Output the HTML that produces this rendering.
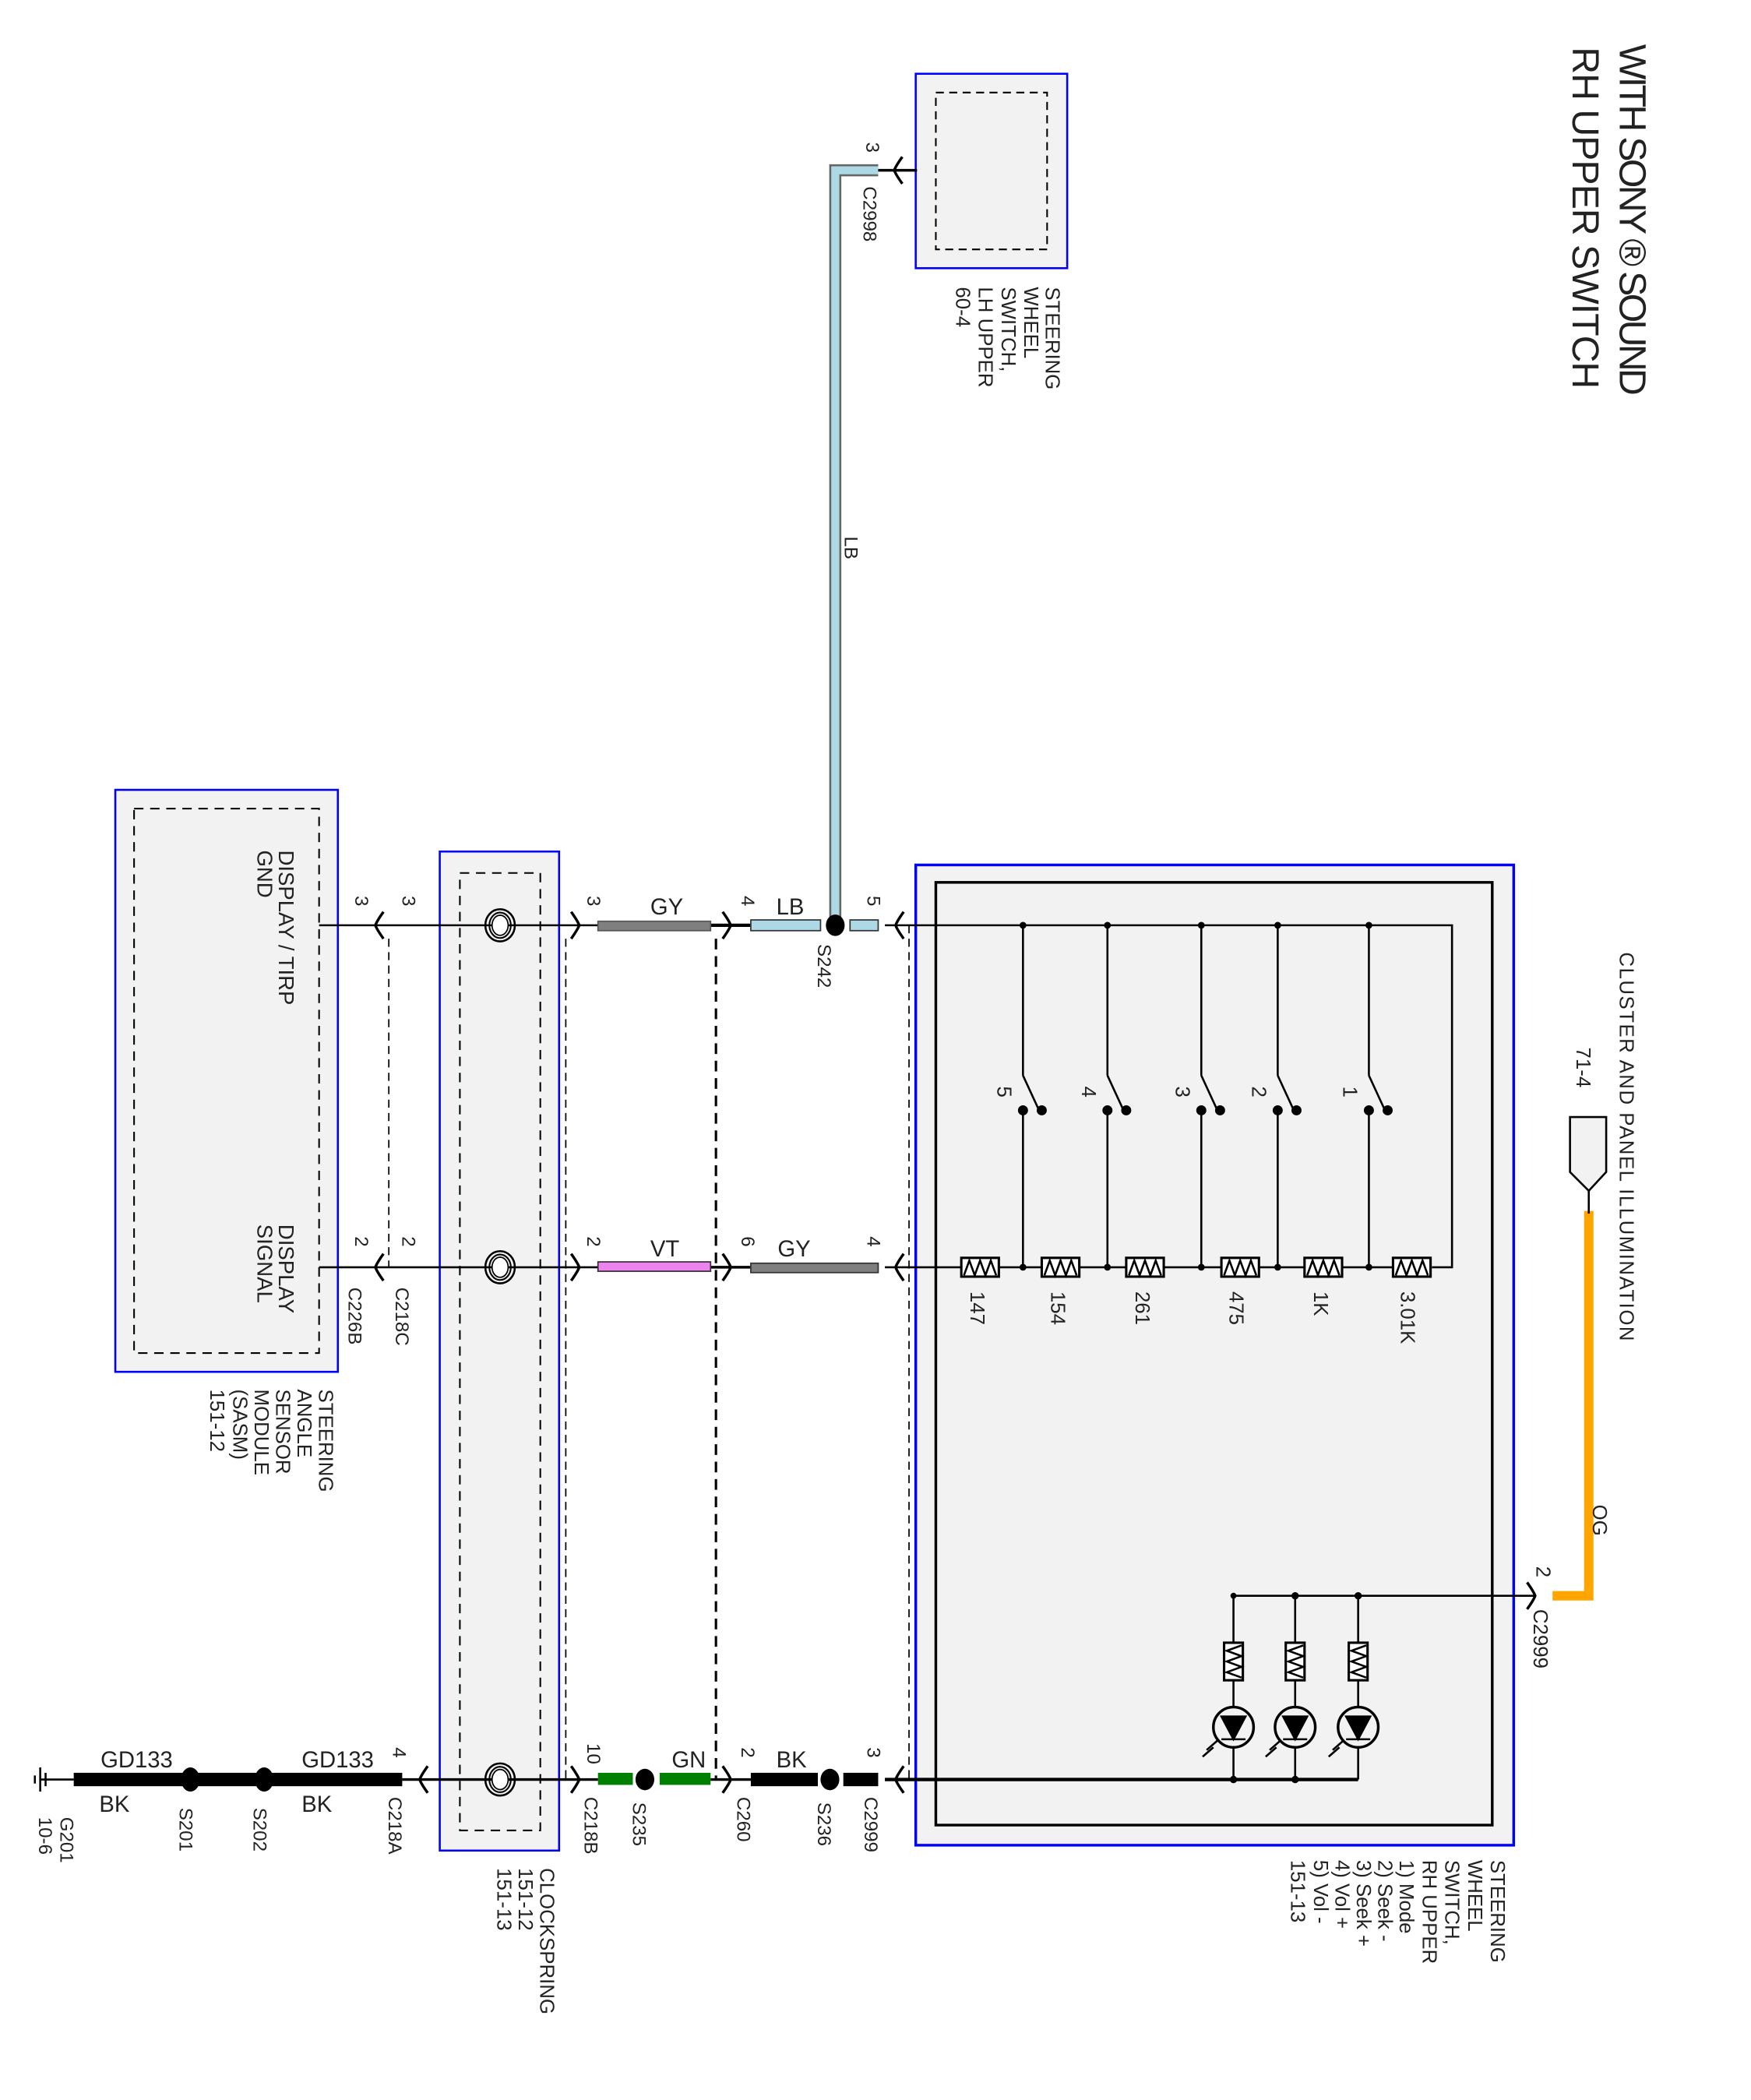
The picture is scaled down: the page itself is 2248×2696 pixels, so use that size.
<!DOCTYPE html>
<html><head><meta charset="utf-8"><style>
html,body{margin:0;padding:0;background:#fff}
svg{display:block}
text{font-family:"Liberation Sans",sans-serif;fill:#222}
</style></head><body>
<svg width="2248" height="2696" viewBox="0 0 1306 1566" preserveAspectRatio="none" xmlns="http://www.w3.org/2000/svg">
<defs>
<g id="cs"><ellipse cx="0" cy="0" rx="11" ry="12" fill="none" stroke="#000" stroke-width="1.5"/><ellipse cx="0" cy="0" rx="8" ry="9.5" fill="none" stroke="#000" stroke-width="1.2"/><ellipse cx="0" cy="0" rx="6" ry="7.5" fill="#fff" stroke="#000" stroke-width="1"/></g>
<g id="al"><path d="M6,-10 Q1,-3 0,0 Q1,3 6,10" fill="none" stroke="#000" stroke-width="2"/></g>
<g id="ar"><path d="M-6,-10 Q-1,-3 0,0 Q-1,3 -6,10" fill="none" stroke="#000" stroke-width="2"/></g>
<g id="rh"><rect x="-14" y="-7" width="28" height="14" fill="#fff" stroke="#000" stroke-width="1.8"/><path d="M-12,6 L-8,-5 L-4,6 L0,-5 L4,6 L8,-5 L12,6" fill="none" stroke="#000" stroke-width="1.5"/></g>
<g id="rv"><rect x="-7" y="-14" width="14" height="28" fill="#fff" stroke="#000" stroke-width="1.8"/><path d="M6,-12 L-5,-8 L6,-4 L-5,0 L6,4 L-5,8 L6,12" fill="none" stroke="#000" stroke-width="1.5"/></g>
</defs>

<text transform="translate(1208,33) rotate(90)" font-size="28" textLength="262">WITH SONY ® SOUND</text>
<text transform="translate(1173,35) rotate(90)" font-size="28" textLength="255">RH UPPER SWITCH</text>

<rect x="683" y="55" width="113" height="145" fill="#f2f2f2" stroke="#00f" stroke-width="1.5"/>
<rect x="698" y="69" width="83" height="117" fill="none" stroke="#000" stroke-width="1.2" stroke-dasharray="6,4"/>
<g font-size="15">
<text transform="translate(780,214) rotate(90)">STEERING</text>
<text transform="translate(764,214) rotate(90)">WHEEL</text>
<text transform="translate(747,214) rotate(90)">SWITCH,</text>
<text transform="translate(730,214) rotate(90)">LH UPPER</text>
<text transform="translate(713,214) rotate(90)">60-4</text>
</g>
<path d="M655,127 L623,127 L623,690" fill="none" stroke="#666" stroke-width="9"/>
<path d="M655,127 L623,127 L623,690" fill="none" stroke="#add8e6" stroke-width="6"/>
<line x1="655" y1="127" x2="684" y2="127" stroke="#000" stroke-width="2"/>
<use href="#al" x="667" y="127"/>
<g font-size="14">
<text transform="translate(646,106) rotate(90)">3</text>
<text transform="translate(644,139) rotate(90)">C2998</text>
<text transform="translate(630,400) rotate(90)">LB</text>
</g>

<rect x="683" y="645" width="446" height="731" fill="#f2f2f2" stroke="#00f" stroke-width="2"/>
<rect x="698" y="658" width="415" height="703" fill="none" stroke="#000" stroke-width="2"/>
<line x1="678" y1="690" x2="678" y2="1327" stroke="#000" stroke-width="1" stroke-dasharray="6,4"/>

<g stroke="#000" stroke-width="1.5" fill="none">
<polyline points="660,690 1083,690 1083,945 1068,945"/>
<line x1="660" y1="945" x2="717" y2="945"/>
<line x1="745" y1="945" x2="777" y2="945"/>
<line x1="805" y1="945" x2="840" y2="945"/>
<line x1="868" y1="945" x2="911" y2="945"/>
<line x1="939" y1="945" x2="973" y2="945"/>
<line x1="1001" y1="945" x2="1039" y2="945"/>
</g>
<use href="#rh" x="731" y="945"/><use href="#rh" x="791" y="945"/><use href="#rh" x="854" y="945"/>
<use href="#rh" x="925" y="945"/><use href="#rh" x="987" y="945"/><use href="#rh" x="1053" y="945"/>
<g stroke="#000" stroke-width="1.5" fill="#000">
<g><line x1="763" y1="690" x2="763" y2="802"/><line x1="763" y1="802" x2="775" y2="828"/><line x1="763" y1="828" x2="763" y2="945"/><circle cx="763" cy="828" r="3"/><circle cx="777" cy="828" r="3"/><circle cx="763" cy="690" r="1.8"/><circle cx="763" cy="945" r="1.8"/></g>
<g><line x1="826" y1="690" x2="826" y2="802"/><line x1="826" y1="802" x2="838" y2="828"/><line x1="826" y1="828" x2="826" y2="945"/><circle cx="826" cy="828" r="3"/><circle cx="840" cy="828" r="3"/><circle cx="826" cy="690" r="1.8"/><circle cx="826" cy="945" r="1.8"/></g>
<g><line x1="896" y1="690" x2="896" y2="802"/><line x1="896" y1="802" x2="908" y2="828"/><line x1="896" y1="828" x2="896" y2="945"/><circle cx="896" cy="828" r="3"/><circle cx="910" cy="828" r="3"/><circle cx="896" cy="690" r="1.8"/><circle cx="896" cy="945" r="1.8"/></g>
<g><line x1="953" y1="690" x2="953" y2="802"/><line x1="953" y1="802" x2="965" y2="828"/><line x1="953" y1="828" x2="953" y2="945"/><circle cx="953" cy="828" r="3"/><circle cx="967" cy="828" r="3"/><circle cx="953" cy="690" r="1.8"/><circle cx="953" cy="945" r="1.8"/></g>
<g><line x1="1021" y1="690" x2="1021" y2="802"/><line x1="1021" y1="802" x2="1033" y2="828"/><line x1="1021" y1="828" x2="1021" y2="945"/><circle cx="1021" cy="828" r="3"/><circle cx="1035" cy="828" r="3"/><circle cx="1021" cy="690" r="1.8"/><circle cx="1021" cy="945" r="1.8"/></g>
</g>
<g font-size="15">
<text transform="translate(744,810) rotate(90)">5</text>
<text transform="translate(807,810) rotate(90)">4</text>
<text transform="translate(877,810) rotate(90)">3</text>
<text transform="translate(934,810) rotate(90)">2</text>
<text transform="translate(1002,810) rotate(90)">1</text>
<text transform="translate(724,963) rotate(90)">147</text>
<text transform="translate(784,963) rotate(90)">154</text>
<text transform="translate(847,963) rotate(90)">261</text>
<text transform="translate(917,963) rotate(90)">475</text>
<text transform="translate(980,963) rotate(90)">1K</text>
<text transform="translate(1045,963) rotate(90)">3.01K</text>
</g>

<g stroke="#000" stroke-width="1.5" fill="none">
<polyline points="1145,1190 920,1190 920,1327"/>
<line x1="966" y1="1190" x2="966" y2="1327"/>
<line x1="1013" y1="1190" x2="1013" y2="1327"/>
<line x1="660" y1="1327" x2="1013" y2="1327" stroke-width="2.5"/>
</g>
<use href="#rv" x="920" y="1239"/><use href="#rv" x="966" y="1239"/><use href="#rv" x="1013" y="1239"/>
<g stroke="#000" stroke-width="2" fill="#f2f2f2">
<circle cx="920" cy="1288" r="15"/><circle cx="966" cy="1288" r="15"/><circle cx="1013" cy="1288" r="15"/>
</g>
<g fill="#000" stroke="#000" stroke-width="1.5">
<path d="M911,1280 L929,1280 L920,1297 Z"/><line x1="911" y1="1297" x2="929" y2="1297"/>
<path d="M957,1280 L975,1280 L966,1297 Z"/><line x1="957" y1="1297" x2="975" y2="1297"/>
<path d="M1004,1280 L1022,1280 L1013,1297 Z"/><line x1="1004" y1="1297" x2="1022" y2="1297"/>
<path d="M908,1298 L900,1305 M905,1303 L897,1310 M955,1298 L947,1305 M952,1303 L944,1310 M1002,1298 L994,1305 M999,1303 L991,1310"/>
<circle cx="920" cy="1190" r="1.5"/><circle cx="966" cy="1190" r="2"/><circle cx="1013" cy="1190" r="2"/>
<circle cx="920" cy="1327" r="2"/><circle cx="966" cy="1327" r="2"/>
</g>
<use href="#ar" x="1145" y="1190"/>
<path d="M1158,1190 L1185,1190 L1185,903" fill="none" stroke="#ffa500" stroke-width="7"/>
<line x1="1185" y1="888" x2="1185" y2="905" stroke="#000" stroke-width="1.5"/>
<path d="M1171,833 L1198,833 L1198,874 L1185,888 L1171,874 Z" fill="#f2f2f2" stroke="#000" stroke-width="1.5"/>
<g font-size="15">
<text transform="translate(1208,710) rotate(90)" textLength="290">CLUSTER AND PANEL ILLUMINATION</text>
<text transform="translate(1176,781) rotate(90)">71-4</text>
<text transform="translate(1188,1122) rotate(90)">OG</text>
<text transform="translate(1146,1168) rotate(90)">2</text>
<text transform="translate(1144,1200) rotate(90)">C2999</text>
</g>
<g font-size="15">
<text transform="translate(1112,1387) rotate(90)">STEERING</text>
<text transform="translate(1095,1387) rotate(90)">WHEEL</text>
<text transform="translate(1078,1387) rotate(90)">SWITCH,</text>
<text transform="translate(1061,1387) rotate(90)">RH UPPER</text>
<text transform="translate(1044,1387) rotate(90)">1) Mode</text>
<text transform="translate(1028,1387) rotate(90)">2) Seek -</text>
<text transform="translate(1012,1387) rotate(90)">3) Seek +</text>
<text transform="translate(996,1387) rotate(90)">4) Vol +</text>
<text transform="translate(980,1387) rotate(90)">5) Vol -</text>
<text transform="translate(963,1387) rotate(90)">151-13</text>
</g>

<rect x="86" y="589" width="166" height="434" fill="#f2f2f2" stroke="#00f" stroke-width="1.5"/>
<rect x="100" y="603" width="138" height="406" fill="none" stroke="#000" stroke-width="1.2" stroke-dasharray="7,5"/>
<g font-size="16">
<text transform="translate(208,634) rotate(90)">DISPLAY / TIRP</text>
<text transform="translate(192,634) rotate(90)">GND</text>
<text transform="translate(208,913) rotate(90)">DISPLAY</text>
<text transform="translate(192,913) rotate(90)">SIGNAL</text>
</g>
<g font-size="15">
<text transform="translate(238,1036) rotate(90)">STEERING</text>
<text transform="translate(222,1036) rotate(90)">ANGLE</text>
<text transform="translate(206,1036) rotate(90)">SENSOR</text>
<text transform="translate(190,1036) rotate(90)">MODULE</text>
<text transform="translate(174,1036) rotate(90)">(SASM)</text>
<text transform="translate(157,1036) rotate(90)">151-12</text>
</g>
<line x1="290" y1="700" x2="290" y2="945" stroke="#000" stroke-width="1" stroke-dasharray="6,4"/>

<rect x="328" y="635" width="89" height="745" fill="#f2f2f2" stroke="#00f" stroke-width="1.5"/>
<rect x="343" y="651" width="60" height="714" fill="none" stroke="#000" stroke-width="1.2" stroke-dasharray="7,5"/>
<line x1="422" y1="700" x2="422" y2="1327" stroke="#000" stroke-width="1" stroke-dasharray="6,4"/>
<line x1="534" y1="700" x2="534" y2="1327" stroke="#000" stroke-width="1.8" stroke-dasharray="8,5"/>
<g font-size="15">
<text transform="translate(403,1393) rotate(90)">CLOCKSPRING</text>
<text transform="translate(387,1393) rotate(90)">151-12</text>
<text transform="translate(371,1393) rotate(90)">151-13</text>
</g>

<line x1="238" y1="690" x2="446" y2="690" stroke="#000" stroke-width="1.5"/>
<line x1="530" y1="690" x2="560" y2="690" stroke="#000" stroke-width="2.5"/>
<rect x="446" y="687" width="84" height="7" fill="#7f7f7f" stroke="#555" stroke-width="1"/>
<rect x="560" y="686" width="52" height="8" fill="#add8e6" stroke="#333" stroke-width="1"/>
<rect x="634" y="686" width="21" height="8" fill="#add8e6" stroke="#333" stroke-width="1"/>
<ellipse cx="623" cy="690" rx="7" ry="8" fill="#000"/>
<use href="#cs" x="373" y="690"/>
<use href="#al" x="280" y="690"/><use href="#ar" x="432" y="690"/><use href="#ar" x="545" y="690"/><use href="#al" x="668" y="690"/>
<line x1="238" y1="945" x2="446" y2="945" stroke="#000" stroke-width="1.5"/>
<line x1="530" y1="945" x2="560" y2="945" stroke="#000" stroke-width="2"/>
<rect x="446" y="941" width="84" height="7" fill="#ee82ee" stroke="#333" stroke-width="1"/>
<rect x="560" y="942" width="95" height="7" fill="#7f7f7f" stroke="#333" stroke-width="1"/>
<use href="#cs" x="373" y="945"/>
<use href="#al" x="280" y="945"/><use href="#ar" x="432" y="945"/><use href="#ar" x="545" y="945"/><use href="#al" x="668" y="945"/>
<line x1="300" y1="1327" x2="446" y2="1327" stroke="#000" stroke-width="2"/>
<line x1="530" y1="1327" x2="560" y2="1327" stroke="#000" stroke-width="2"/>
<rect x="55" y="1322" width="245" height="10" fill="#000"/>
<ellipse cx="142" cy="1327" rx="7" ry="9" fill="#000"/><ellipse cx="197" cy="1327" rx="7" ry="9" fill="#000"/>
<rect x="446" y="1322" width="26" height="9" fill="#008000"/><rect x="492" y="1322" width="38" height="9" fill="#008000"/>
<ellipse cx="481" cy="1327" rx="7" ry="8" fill="#000"/>
<rect x="560" y="1322" width="50" height="10" fill="#000"/><rect x="629" y="1322" width="26" height="10" fill="#000"/>
<ellipse cx="619" cy="1327" rx="7" ry="8" fill="#000"/>
<use href="#cs" x="373" y="1327"/>
<use href="#al" x="313" y="1327"/><use href="#ar" x="432" y="1327"/><use href="#ar" x="545" y="1327"/><use href="#al" x="668" y="1327"/>
<g stroke="#000" stroke-width="1.5"><line x1="30" y1="1318" x2="30" y2="1336"/><line x1="34" y1="1322" x2="34" y2="1332"/><line x1="26" y1="1324" x2="26" y2="1330"/><line x1="30" y1="1327" x2="55" y2="1327"/></g>

<g font-size="17">
<text x="485" y="682">GY</text>
<text x="579" y="682">LB</text>
<text x="485" y="937">VT</text>
<text x="580" y="937">GY</text>
<text x="501" y="1318">GN</text>
<text x="579" y="1318">BK</text>
<text x="75" y="1318">GD133</text>
<text x="225" y="1318">GD133</text>
<text x="74" y="1351">BK</text>
<text x="225" y="1351">BK</text>
</g>
<g font-size="14">
<text transform="translate(265,668) rotate(90)">3</text>
<text transform="translate(300,668) rotate(90)">3</text>
<text transform="translate(438,668) rotate(90)">3</text>
<text transform="translate(553,668) rotate(90)">4</text>
<text transform="translate(647,668) rotate(90)">5</text>
<text transform="translate(610,704) rotate(90)">S242</text>
<text transform="translate(265,922) rotate(90)">2</text>
<text transform="translate(300,922) rotate(90)">2</text>
<text transform="translate(438,922) rotate(90)">2</text>
<text transform="translate(553,922) rotate(90)">6</text>
<text transform="translate(647,922) rotate(90)">4</text>
<text transform="translate(260,960) rotate(90)">C226B</text>
<text transform="translate(295,960) rotate(90)">C218C</text>
<text transform="translate(293,1303) rotate(90)">4</text>
<text transform="translate(438,1300) rotate(90)">10</text>
<text transform="translate(553,1303) rotate(90)">2</text>
<text transform="translate(647,1303) rotate(90)">3</text>
<text transform="translate(290,1340) rotate(90)">C218A</text>
<text transform="translate(436,1340) rotate(90)">C218B</text>
<text transform="translate(472,1344) rotate(90)">S235</text>
<text transform="translate(550,1340) rotate(90)">C260</text>
<text transform="translate(610,1344) rotate(90)">S236</text>
<text transform="translate(645,1340) rotate(90)">C2999</text>
<text transform="translate(134,1348) rotate(90)">S201</text>
<text transform="translate(189,1348) rotate(90)">S202</text>
<text transform="translate(45,1355) rotate(90)">G201</text>
<text transform="translate(29,1355) rotate(90)">10-6</text>
</g>
</svg>
</body></html>
